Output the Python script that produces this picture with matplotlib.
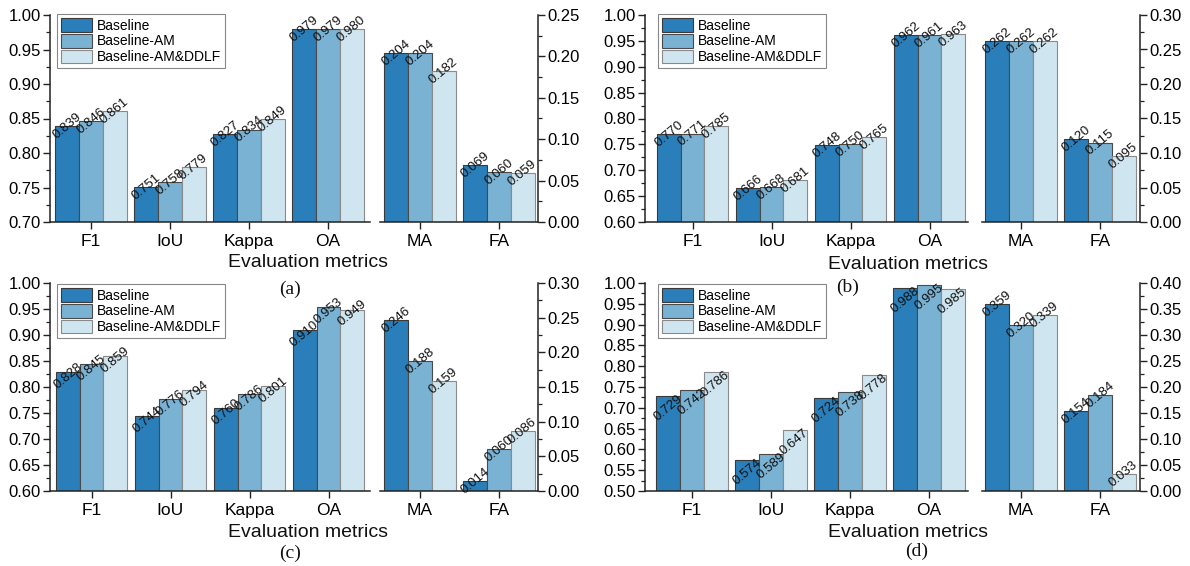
import matplotlib
matplotlib.use("Agg")
import matplotlib.pyplot as plt
from matplotlib.ticker import MultipleLocator, FormatStrFormatter
import numpy as np

plt.rcParams['font.family'] = ['Liberation Sans', 'DejaVu Sans']

series = ["Baseline", "Baseline-AM", "Baseline-AM&DDLF"]
left_metrics = ["F1", "IoU", "Kappa", "OA"]
right_metrics = ["MA", "FA"]

# values per series, ordered F1, IoU, Kappa, OA, MA, FA
a_baseline = [0.839, 0.751, 0.827, 0.979, 0.204, 0.069]
a_am = [0.846, 0.758, 0.834, 0.979, 0.204, 0.060]
a_ddlf = [0.861, 0.779, 0.849, 0.980, 0.182, 0.059]

b_baseline = [0.770, 0.666, 0.748, 0.962, 0.262, 0.120]
b_am = [0.771, 0.668, 0.750, 0.961, 0.262, 0.115]
b_ddlf = [0.785, 0.681, 0.765, 0.963, 0.262, 0.095]

c_baseline = [0.828, 0.744, 0.760, 0.910, 0.246, 0.014]
c_am = [0.845, 0.776, 0.786, 0.953, 0.188, 0.060]
c_ddlf = [0.859, 0.794, 0.801, 0.949, 0.159, 0.086]

d_baseline = [0.729, 0.574, 0.724, 0.988, 0.359, 0.154]
d_am = [0.742, 0.589, 0.738, 0.995, 0.320, 0.184]
d_ddlf = [0.786, 0.647, 0.778, 0.985, 0.339, 0.033]

colors = ["#2A7FBA", "#7AB2D4", "#CFE5EF"]
edges = ["#3a3a3a", "#4a4a4a", "#8a8a8a"]

W, H = 1190, 566
fig = plt.figure(figsize=(W / 100, H / 100), dpi=100)


def axes_px(x0, x1, y0, y1):
    return fig.add_axes([x0 / W, 1 - y1 / H, (x1 - x0) / W, (y1 - y0) / H])


panels = [
    dict(tag="(a)", data=(a_baseline, a_am, a_ddlf), lylim=(0.70, 1.00), rylim=(0, 0.25),
         lx=(50, 370), rx=(380, 538), y=(15, 222), c0=91, m0=420, leg=(57, 14),
         xlab=(308, 254), tagpos=(290, 289), dy=0),
    dict(tag="(b)", data=(b_baseline, b_am, b_ddlf), lylim=(0.60, 1.00), rylim=(0, 0.30),
         lx=(645, 968), rx=(982, 1140), y=(15, 222), c0=692.5, m0=1021, leg=(658, 14),
         xlab=(908, 256), tagpos=(848, 287), dy=0),
    dict(tag="(c)", data=(c_baseline, c_am, c_ddlf), lylim=(0.60, 1.00), rylim=(0, 0.30),
         lx=(50, 370), rx=(380, 538), y=(283, 491), c0=91.5, m0=420, leg=(57, 284),
         xlab=(308, 524), tagpos=(290, 553), dy=-4),
    dict(tag="(d)", data=(d_baseline, d_am, d_ddlf), lylim=(0.50, 1.00), rylim=(0, 0.40),
         lx=(645, 968), rx=(982, 1140), y=(283, 491), c0=692, m0=1021, leg=(658, 284),
         xlab=(908, 524), tagpos=(917, 551), dy=-12),
]

unit = 79.0      # pixel spacing between metric groups
width = 0.30
offsets = [-width, 0.0, width]


def style_axis(ax, side):
    for s in ax.spines.values():
        s.set_linewidth(1.1)
        s.set_color("#222222")
    ax.spines['top'].set_visible(False)
    if side == "left":
        ax.spines['right'].set_visible(False)
    else:
        ax.spines['left'].set_visible(False)
        ax.yaxis.tick_right()
    ax.tick_params(axis='y', which='major', length=5, width=1.0, direction='out',
                   labelsize=12, pad=1.5, color="#222222")
    ax.tick_params(axis='y', which='minor', length=3, width=0.9, direction='out',
                   color="#222222")
    ax.tick_params(axis='x', which='major', length=5, width=1.0, direction='out',
                   labelsize=12.5, pad=3.5, color="#222222")
    ax.yaxis.set_major_formatter(FormatStrFormatter('%.2f'))
    ax.yaxis.set_major_locator(MultipleLocator(0.05))
    ax.yaxis.set_minor_locator(MultipleLocator(0.025))


def draw_bars(ax, idx, vals_list, dy_px):
    handles = []
    x = np.arange(len(idx))
    for k, vals in enumerate(vals_list):
        v = [vals[i] for i in idx]
        bars = ax.bar(x + offsets[k], v, width, color=colors[k], edgecolor=edges[k],
                      linewidth=0.8, label=series[k], zorder=2)
        handles.append(bars)
        for xi, vi in zip(x + offsets[k], v):
            ax.annotate(f"{vi:.3f}", xy=(xi, vi), xytext=(0, dy_px * 0.72),
                        textcoords='offset points', ha='center', va='center',
                        rotation=40, fontsize=9.5, color="#111111", zorder=3)
    return handles


for p in panels:
    y0, y1 = p["y"]
    axl = axes_px(p["lx"][0], p["lx"][1], y0, y1)
    axr = axes_px(p["rx"][0], p["rx"][1], y0, y1)

    handles = draw_bars(axl, [0, 1, 2, 3], p["data"], p["dy"])
    draw_bars(axr, [4, 5], p["data"], 0)

    axl.set_xlim((p["lx"][0] - p["c0"]) / unit, (p["lx"][1] - p["c0"]) / unit)
    axr.set_xlim((p["rx"][0] - p["m0"]) / unit, (p["rx"][1] - p["m0"]) / unit)
    axl.set_ylim(*p["lylim"])
    axr.set_ylim(*p["rylim"])

    axl.set_xticks(range(4))
    axl.set_xticklabels(left_metrics)
    axr.set_xticks(range(2))
    axr.set_xticklabels(right_metrics)

    style_axis(axl, "left")
    style_axis(axr, "right")

    leg = axl.legend(handles, series, loc='upper left',
                     bbox_to_anchor=(p["leg"][0] / W, 1 - p["leg"][1] / H),
                     bbox_transform=fig.transFigure, borderaxespad=0, fontsize=10,
                     handlelength=2.2, handleheight=1.15, labelspacing=0.08,
                     borderpad=0.3, handletextpad=0.35, fancybox=False,
                     edgecolor='#888888', framealpha=1)
    leg.get_frame().set_linewidth(0.8)

    fig.text(p["xlab"][0] / W, 1 - p["xlab"][1] / H, "Evaluation metrics",
             ha='center', va='top', fontsize=14, color="#111111")
    fig.text(p["tagpos"][0] / W, 1 - p["tagpos"][1] / H, p["tag"],
             ha='center', va='center', fontsize=14,
             family=['Liberation Serif', 'DejaVu Serif'], color="#111111")

fig.savefig("out.png", dpi=100)
